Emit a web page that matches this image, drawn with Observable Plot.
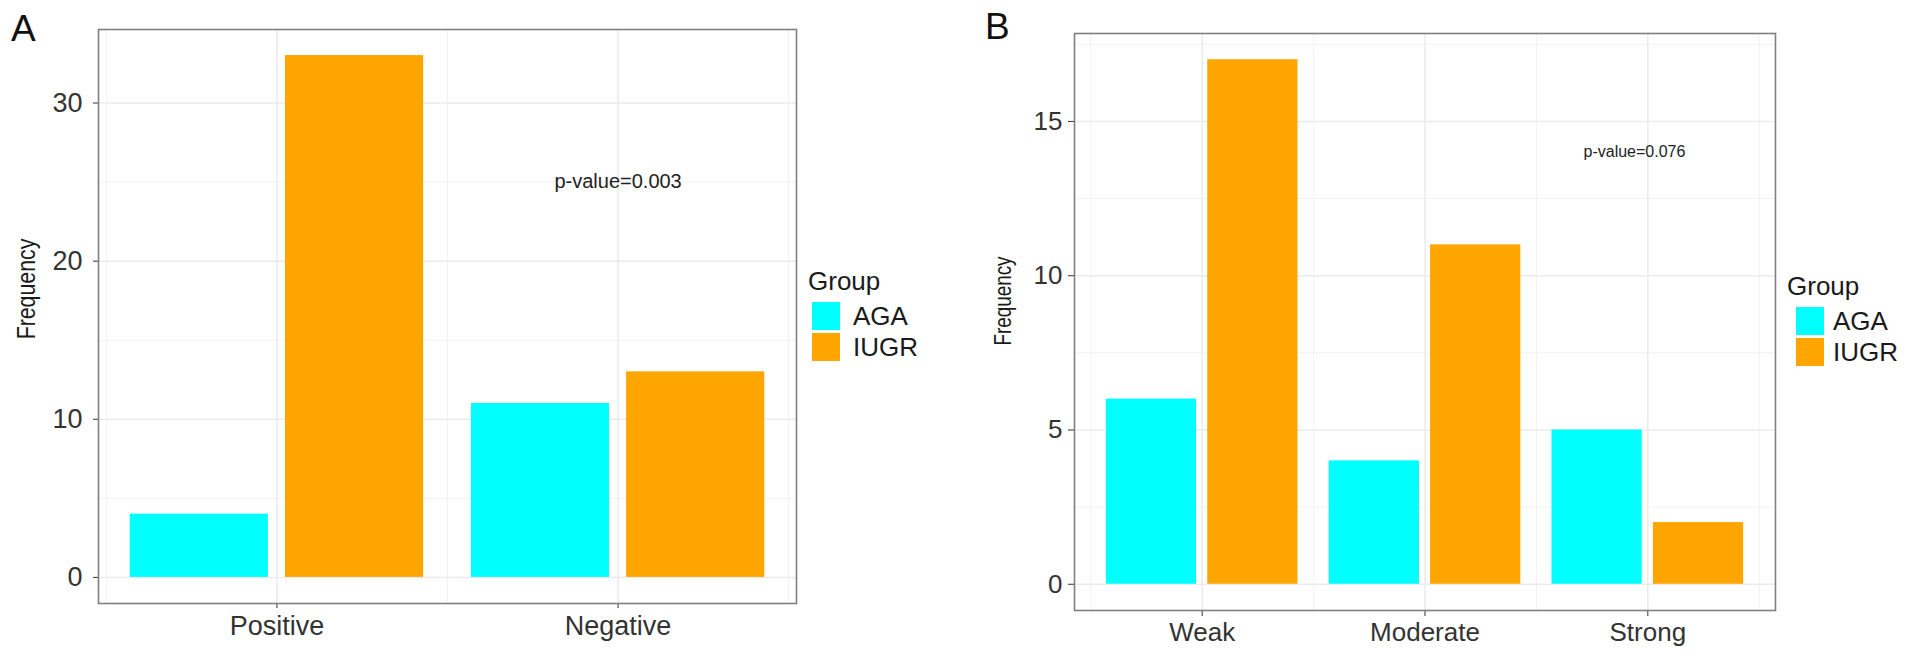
<!DOCTYPE html>
<html><head><meta charset="utf-8">
<script src="https://cdn.jsdelivr.net/npm/d3@7"></script>
<script src="https://cdn.jsdelivr.net/npm/@observablehq/plot@0.6"></script>
<style>
body{margin:0;background:#fff;}
#root{position:relative;width:1913px;height:660px;font-family:"Liberation Sans",Arial,Helvetica,sans-serif;color:#1a1a1a;overflow:hidden;background:#fff}
.abs{position:absolute;white-space:nowrap;line-height:1}
.panel{position:absolute;top:0}
.rot{position:absolute;white-space:nowrap;line-height:1;transform:translate(-50%,-50%) rotate(-90deg) scaleX(0.82)}
.key{position:absolute;width:28px;height:28px}
</style></head><body><div id="root"></div>
<script>
// ---- data ----
const groups = ["AGA", "IUGR"];
const groupColors = ["#00FFFF", "#FFA500"];

const categoriesA = ["Positive", "Negative"];
const agaA = [4, 11];
const iugrA = [33, 13];
const yTicksA = [0, 10, 20, 30];
const yMinorA = [5, 15, 25];
const pLabelA = "p-value=0.003";
const pPosA = {cat: 2, y: 25};

const categoriesB = ["Weak", "Moderate", "Strong"];
const agaB = [6, 4, 5];
const iugrB = [17, 11, 2];
const yTicksB = [0, 5, 10, 15];
const yMinorB = [2.5, 7.5, 12.5, 17.5];
const pLabelB = "p-value=0.076";
const pPosB = {cat: 2.94, y: 14};

const yTitle = "Frequency";
const legendTitle = "Group";

// ---- helpers ----
function rowsOf(cats, aga, iugr) {
  const rows = [];
  cats.forEach((c, i) => {
    rows.push({cat: c, pos: i + 1, group: groups[0], value: aga[i]});
    rows.push({cat: c, pos: i + 1, group: groups[1], value: iugr[i]});
  });
  return rows;
}
// ggplot-like continuous expansion of the bar extents
function xDomainOf(n) { const lo = 1 - 0.43, hi = n + 0.43, e = (hi - lo) * 0.05; return [lo - e, hi + e]; }
function yDomainOf(maxV) { const e = maxV * 0.05; return [-e, maxV + e]; }

function panel(cfg) {
  const rows = rowsOf(cfg.cats, cfg.aga, cfg.iugr);
  const n = cfg.cats.length;
  const majorX = d3.range(1, n + 1);
  const minorX = d3.range(0, n + 1).map(i => i + 0.5);
  const maxV = d3.max(rows, d => d.value);
  return Plot.plot({
    width: cfg.width, height: 660,
    marginLeft: cfg.ml, marginRight: cfg.mr, marginTop: cfg.mt, marginBottom: cfg.mb,
    style: {fontFamily: '"Liberation Sans", Arial, sans-serif', fontSize: cfg.tickFont + "px", color: "#333", background: "transparent", overflow: "visible"},
    x: {domain: xDomainOf(n), ticks: majorX, tickFormat: d => cfg.cats[d - 1], tickSize: cfg.tickSize, tickPadding: cfg.xPad, label: null},
    y: {domain: yDomainOf(maxV), ticks: cfg.yTicks, tickSize: cfg.tickSize, tickPadding: cfg.yPad, label: null},
    color: {domain: groups, range: groupColors},
    marks: [
      Plot.ruleY(cfg.yMinor, {stroke: "#f2f2f2", strokeWidth: 1}),
      Plot.ruleX(minorX, {stroke: "#f2f2f2", strokeWidth: 1}),
      Plot.ruleY(cfg.yTicks, {stroke: "#ebebeb", strokeWidth: 1.5}),
      Plot.ruleX(majorX, {stroke: "#ebebeb", strokeWidth: 1.5}),
      Plot.rect(rows, {
        x1: d => d.pos + (d.group === groups[0] ? -0.43 : 0.025),
        x2: d => d.pos + (d.group === groups[0] ? -0.025 : 0.43),
        y1: d => 0, y2: "value", fill: "group"
      }),
      Plot.text([cfg.p], {x: d => d.cat, y: d => d.y, text: d => cfg.pLabel, fontSize: cfg.pFont, fill: "#222"}),
      Plot.frame({stroke: "#7f7f7f", strokeWidth: 1.6})
    ]
  });
}

const root = document.getElementById("root");

function addPanel(left, cfg) {
  const svg = panel(cfg);
  const wrap = document.createElement("div");
  wrap.className = "panel";
  wrap.style.left = left + "px";
  wrap.appendChild(svg);
  root.appendChild(wrap);
}
function addText(cls, txt, css) {
  const d = document.createElement("div");
  d.className = cls; d.textContent = txt;
  Object.assign(d.style, css);
  root.appendChild(d);
  return d;
}
function addLegend(x, yTitleTop, keyX, keyY, textX, font) {
  addText("abs", legendTitle, {left: x + "px", top: yTitleTop + "px", fontSize: font + "px", color: "#1a1a1a"});
  groups.forEach((g, i) => {
    const k = document.createElement("div");
    k.className = "key";
    k.style.left = keyX + "px";
    k.style.top = (keyY + i * 31) + "px";
    k.style.background = groupColors[i];
    root.appendChild(k);
    addText("abs", g, {left: textX + "px", top: (keyY + i * 31 + 14 - font * 0.5) + "px", fontSize: font + "px", color: "#1a1a1a"});
  });
}

addPanel(0, {cats: categoriesA, aga: agaA, iugr: iugrA, yTicks: yTicksA, yMinor: yMinorA,
  width: 800, ml: 98, mr: 4, mt: 29, mb: 57, tickFont: 27, tickSize: 5, xPad: 7, yPad: 11,
  p: pPosA, pLabel: pLabelA, pFont: 20});
addPanel(960, {cats: categoriesB, aga: agaB, iugr: iugrB, yTicks: yTicksB, yMinor: yMinorB,
  width: 820, ml: 114, mr: 5, mt: 33, mb: 50, tickFont: 26, tickSize: 6, xPad: 6, yPad: 6,
  p: pPosB, pLabel: pLabelB, pFont: 16});

addText("abs", "A", {left: "11px", top: "10px", fontSize: "37px", color: "#111"});
addText("abs", "B", {left: "985px", top: "8px", fontSize: "37px", color: "#111"});
addText("rot", yTitle, {left: "26px", top: "289px", fontSize: "26px"});
addText("rot", yTitle, {left: "1003px", top: "301px", fontSize: "23px"});

addLegend(808, 268, 812, 302, 853, 26);
addLegend(1787, 273, 1796, 307, 1833, 26);
</script></body></html>
